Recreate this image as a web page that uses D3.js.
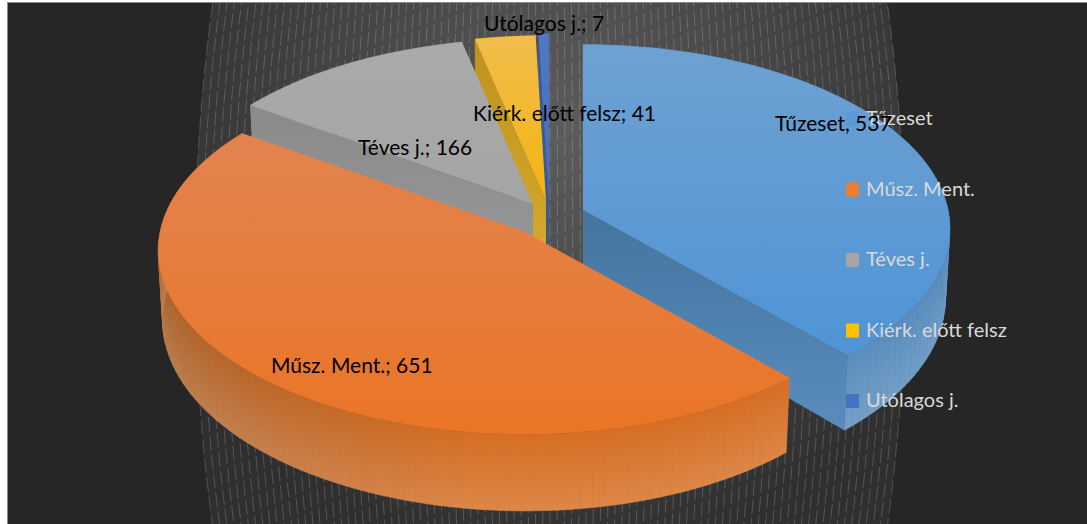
<!DOCTYPE html>
<html>
<head>
<meta charset="utf-8">
<script src="https://cdn.jsdelivr.net/npm/d3@7"></script>
<style>
html, body { margin: 0; padding: 0; background: #fff; overflow: hidden; }
svg { display: block; }
</style>
</head>
<body>
<svg id="chart"></svg>
<script>
let categories = ['Tűzeset', 'Műsz. Ment.', 'Téves j.', 'Kiérk. előtt felsz', 'Utólagos j.'];
let values = [537, 651, 166, 41, 7];
let separators = [', ', '; ', '; ', '; ', '; '];

let width = 1087;
let height = 524;

let colorScale = d3.scaleOrdinal().domain(categories)
    .range(['#5b9bd5', '#ed7d31', '#a5a5a5', '#ffc000', '#4472c4']);

// top face colours (far end, near end) and wall colours
let topFaces = [['#6ea1d1', '#4f94d6'], ['#e2834f', '#ea7526'], ['#aaaaaa', '#a4a4a4'], ['#f1bd4c', '#f4b40f'], ['#4f78c6', '#4470c0']];
let cutWalls = [['#44759f', '#5a8cbe'], null, ['#8a8a8a', '#989898'], ['#bd9220', '#d6aa2c'], ['#3a5a98', '#3a5a98']];
let rimLeft = ['#4a86bf', '#a9622c', '#888888', '#c09020', '#3a5a98'];
let rimRight = ['#5a8dbd', '#d66e22', '#888888', '#c09020', '#3a5a98'];

// where each exploded slice has its tip, label anchors
let sliceTips = [[583, 210], [525, 232], [533, 204], [546, 201], [549, 199]];
let labelPos = [[775, 131], [271, 373], [358, 155], [473, 121], [484, 31]];
let drawOrder = [4, 3, 2, 0, 1];

let radiusX = 365;
let radiusY = 182;
let persp = 0.1;
let depth = 69;

let line = d3.line();
let closed = d3.line().curve(d3.curveLinearClosed);

// project a point of the tilted pie to the screen
function project(i, angle, r, z) {
    let tip = sliceTips[i];
    let px = Math.sin(angle) * r;
    let pv = -Math.cos(angle) * r;
    let s = 1 / (1 - persp * pv);
    return [
        tip[0] + radiusX * px * s * (1 - 0.012 * z),
        tip[1] + radiusY * pv * s + depth * z * s
    ];
}

function linearGrad(defs, id, c0, c1, y0, y1) {
    let g = defs.append('linearGradient').attr('id', id)
        .attr('gradientUnits', 'userSpaceOnUse')
        .attr('x1', 0).attr('x2', 0).attr('y1', y0).attr('y2', y1);
    g.append('stop').attr('offset', 0).attr('stop-color', c0);
    g.append('stop').attr('offset', 1).attr('stop-color', c1);
}

function draw_backdrop(svg, defs) {
    let cx = 550;
    let edge = y => 355 * (1 - 0.05 * Math.pow((y - 265) / 262, 2));
    let ys = d3.range(3, height + 6, 6);

    let glow = defs.append('radialGradient').attr('id', 'wallGlow')
        .attr('gradientUnits', 'userSpaceOnUse')
        .attr('cx', 560).attr('cy', 130).attr('r', 430);
    glow.append('stop').attr('offset', 0).attr('stop-color', '#5c5c5c');
    glow.append('stop').attr('offset', 0.55).attr('stop-color', '#444444');
    glow.append('stop').attr('offset', 1).attr('stop-color', '#2f2f2f');

    let outline = ys.map(y => [cx - edge(y), y]).concat(ys.slice().reverse().map(y => [cx + edge(y), y]));
    svg.append('path').attr('d', closed(outline)).attr('fill', 'url(#wallGlow)');

    // dashes staggered from line to line so they do not form rows
    let hatch = svg.append('g').attr('fill', 'none')
        .attr('stroke', '#ffffff').attr('stroke-opacity', 0.3)
        .attr('stroke-width', 0.6).attr('stroke-dasharray', '15 4');
    d3.range(-47, 48).forEach(n => {
        let u = n / 47;
        hatch.append('path')
            .attr('stroke-dashoffset', (n + 47) * 3)
            .attr('d', line(ys.map(y => [cx + u * edge(y), y])));
    });
}

function draw_slice(svg, defs, arc, i) {
    let g = svg.append('g').attr('class', 'slice');
    let a0 = arc.startAngle;
    let a1 = arc.endAngle;

    // outer wall, cut in narrow facets, each a little lighter at its foot
    let n = Math.max(2, Math.ceil((a1 - a0) / 0.03));
    let shade = d3.interpolateRgb(rimRight[i], rimLeft[i]);
    d3.range(n).forEach(j => {
        let b0 = a0 + (a1 - a0) * j / n;
        let b1 = a0 + (a1 - a0) * (j + 1) / n;
        let t = i === 1 ? Math.min(1, Math.max(0, (Math.sin(b0) + 0.1) * -1.05)) : 1 - j / n;
        let col = shade(t);
        let id = 'rim' + i + '-' + j;
        let grad = defs.append('linearGradient').attr('id', id)
            .attr('x1', 0).attr('x2', 0).attr('y1', 0).attr('y2', 1);
        grad.append('stop').attr('offset', 0).attr('stop-color', col);
        grad.append('stop').attr('offset', 1).attr('stop-color', d3.interpolateRgb(col, '#fff')(0.17));
        let quad = [project(i, b0, 1, 0), project(i, b1, 1, 0), project(i, b1, 1, 1), project(i, b0, 1, 1)];
        g.append('path').attr('d', closed(quad))
            .attr('fill', 'url(#' + id + ')')
            .attr('stroke', 'url(#' + id + ')').attr('stroke-width', 0.6);
    });

    // straight cut wall facing the viewer
    if (cutWalls[i]) {
        let cutAngle = i === 0 ? a1 : a0;
        let id = 'cut' + i;
        let pts = [project(i, 0, 0, 0), project(i, cutAngle, 1, 0), project(i, cutAngle, 1, 1), project(i, 0, 0, 1)];
        linearGrad(defs, id, cutWalls[i][0], cutWalls[i][1], d3.min(pts, p => p[1]), d3.max(pts, p => p[1]));
        g.append('path').attr('d', closed(pts)).attr('fill', 'url(#' + id + ')');
    }

    // top face
    let rim = d3.range(0, n + 1).map(j => project(i, a0 + (a1 - a0) * j / n, 1, 0));
    let face = [project(i, 0, 0, 0)].concat(rim);
    let topId = 'top' + i;
    linearGrad(defs, topId, topFaces[i][0], topFaces[i][1], d3.min(face, p => p[1]), d3.max(face, p => p[1]));
    g.append('path').attr('d', closed(face)).attr('fill', 'url(#' + topId + ')');
}

function draw_legend(svg) {
    let y = d3.scalePoint().domain(categories).range([119, 401]);
    let legend = svg.append('g').attr('class', 'legend');
    categories.forEach(c => {
        legend.append('rect')
            .attr('x', 846).attr('y', y(c) - 7)
            .attr('width', 13).attr('height', 14)
            .attr('fill', colorScale(c));
        legend.append('text')
            .attr('x', 866).attr('y', y(c) + 6)
            .style('font-family', 'Lato')
            .style('font-size', '20px')
            .style('fill', '#d9d9d9')
            .text(c);
    });
}

function draw_labels(svg) {
    categories.forEach((c, i) => {
        svg.append('text')
            .attr('x', labelPos[i][0]).attr('y', labelPos[i][1])
            .style('font-family', 'Lato')
            .style('font-size', '21px')
            .style('fill', '#000')
            .text(c + separators[i] + values[i]);
    });
}

function main() {
    let svg = d3.select('#chart').attr('width', width).attr('height', height);
    let defs = svg.append('defs');

    // white page edge, then the dark chart area
    svg.append('rect').attr('width', width).attr('height', height).attr('fill', '#fff');
    svg.append('rect').attr('x', 7).attr('y', 2).attr('width', width - 7).attr('height', height - 2).attr('fill', '#8a8a8a');
    svg.append('rect').attr('x', 8).attr('y', 3).attr('width', width - 8).attr('height', height - 3).attr('fill', '#262626');

    draw_backdrop(svg, defs);

    let arcs = d3.pie().sort(null)(values);
    drawOrder.forEach(i => draw_slice(svg, defs, arcs[i], i));

    draw_legend(svg);
    draw_labels(svg);
}

main();
</script>
</body>
</html>
